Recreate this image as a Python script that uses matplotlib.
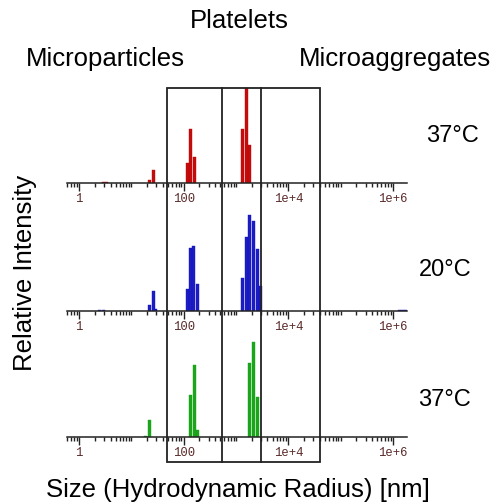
import numpy as np
import matplotlib.pyplot as plt
from matplotlib.ticker import FixedLocator, LogLocator, NullFormatter, FuncFormatter
from matplotlib.patches import Rectangle

plt.rcParams['font.family'] = ['Liberation Sans', 'DejaVu Sans']

# bin centres (hydrodynamic radius, nm) and relative intensities per run
red_size = [3.0, 3.4, 21.8, 26, 117, 136, 158, 1320, 1575, 1850]
red_int = [1.5, 1.5, 3, 13, 20, 54, 26, 54, 95, 38]

blue_size = [2.44, 2.91, 21.8, 26, 29.6, 117, 134, 156, 185,
             1320, 1575, 1825, 2143, 2555, 2915, 1.36e6, 1.55e6, 1.77e6]
blue_int = [1, 1, 6, 20, 2.3, 22, 63, 65, 27,
            33, 74, 96, 90, 62, 25, 1, 1, 1]

green_size = [18.5, 21.8, 134, 158, 185, 1825, 2143, 2540]
green_int = [1, 17, 42, 72, 7, 74, 95, 40]

panels = [
    (red_size, red_int, '#c00000', '37°C'),
    (blue_size, blue_int, '#1010c0', '20°C'),
    (green_size, green_int, '#10a010', '37°C'),
]

# class boundaries (nm)
region_edges = [48, 530, 3000, 40000]

W, H = 500, 503
fig = plt.figure(figsize=(W / 100, H / 100), dpi=100)

x0, x1 = 67, 407
baselines = [183, 311, 437]
temp_y = [142, 276, 406]
temp_x = [452, 445, 444]
xlim = (10 ** ((x0 - 79) / 52.33), 10 ** ((x1 - 79) / 52.33))
bw = 0.057  # bar width in decades


def tick_fmt(v, pos):
    if v < 1000:
        return '%d' % round(v)
    return '1e+%d' % round(np.log10(v))


for (sz, it, col, temp), yb, ty, tx in zip(panels, baselines, temp_y, temp_x):
    ax = fig.add_axes([x0 / W, (H - yb) / H, (x1 - x0) / W, 100 / H])
    sz = np.array(sz, dtype=float)
    left = sz * 10 ** (-bw / 2)
    width = sz * 10 ** (bw / 2) - left
    ax.bar(left, it, width=width, align='edge', color=col,
           edgecolor=col, linewidth=0.3, alpha=0.95)
    ax.set_xscale('log')
    ax.set_xlim(*xlim)
    ax.set_ylim(0, 100)
    for s in ['top', 'left', 'right']:
        ax.spines[s].set_visible(False)
    ax.spines['bottom'].set_linewidth(1.1)
    ax.spines['bottom'].set_color('#222222')
    ax.patch.set_alpha(0)
    ax.set_yticks([])
    ax.xaxis.set_major_locator(FixedLocator([1, 100, 1e4, 1e6]))
    ax.xaxis.set_major_formatter(FuncFormatter(tick_fmt))
    ax.xaxis.set_minor_locator(LogLocator(base=10, subs=np.arange(1, 10), numticks=100))
    ax.xaxis.set_minor_formatter(NullFormatter())
    ax.tick_params(axis='x', which='major', length=6, width=1, color='#222222',
                   pad=1.5, labelsize=8.8, labelcolor='#5b2a2a', direction='out')
    ax.tick_params(axis='x', which='minor', length=3, width=1, color='#222222',
                   direction='out')
    for lbl in ax.get_xticklabels():
        lbl.set_family('Liberation Mono')
    fig.text(tx / W, 1 - ty / H, temp, ha='center', va='baseline', fontsize=17)

# overlay for the class boxes
ov = fig.add_axes([x0 / W, 0, (x1 - x0) / W, 1])
ov.set_xscale('log')
ov.set_xlim(*xlim)
ov.set_ylim(0, H)
ov.axis('off')
ov.patch.set_alpha(0)
ytop, ybot = H - 88, H - 462
ov.add_patch(Rectangle((region_edges[0], ybot), region_edges[3] - region_edges[0],
                       ytop - ybot, fill=False, edgecolor='#222222', linewidth=1.3))
for e in region_edges[1:3]:
    ov.plot([e, e], [ybot, ytop], color='#222222', linewidth=1.3)

fig.text(239 / W, 1 - 28 / H, 'Platelets', ha='center', va='baseline', fontsize=18.5)
fig.text(105 / W, 1 - 66 / H, 'Microparticles', ha='center', va='baseline', fontsize=18.5)
fig.text(395 / W, 1 - 66 / H, 'Microaggregates', ha='center', va='baseline', fontsize=18.5)
fig.text(25 / W, 1 - 273 / H, 'Relative Intensity', ha='center', va='center',
         rotation=90, fontsize=18.5)
fig.text(238 / W, 1 - 497 / H, 'Size (Hydrodynamic Radius) [nm]', ha='center',
         va='baseline', fontsize=18.5)

fig.savefig('out.png', dpi=100)
